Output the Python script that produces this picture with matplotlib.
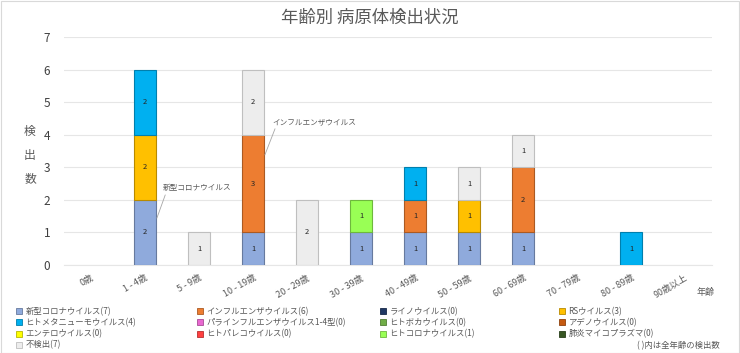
import matplotlib
matplotlib.use("Agg")
import matplotlib.pyplot as plt
import matplotlib.patches as mpatches
import numpy as np
from matplotlib.colors import to_rgb

plt.rcParams['font.family'] = ['Noto Sans CJK JP', 'DejaVu Sans']

categories = ["0歳", "1 - 4歳", "5 - 9歳", "10 - 19歳", "20 - 29歳", "30 - 39歳",
              "40 - 49歳", "50 - 59歳", "60 - 69歳", "70 - 79歳", "80 - 89歳", "90歳以上"]

series_names = ["新型コロナウイルス", "インフルエンザウイルス", "ライノウイルス", "RSウイルス",
                "ヒトメタニューモウイルス", "パラインフルエンザウイルス1-4型", "ヒトボカウイルス",
                "アデノウイルス", "エンテロウイルス", "ヒトパレコウイルス", "ヒトコロナウイルス",
                "肺炎マイコプラズマ", "不検出"]
totals = [7, 6, 0, 3, 4, 0, 0, 0, 0, 0, 1, 0, 7]
colors = ["#8FAADC", "#ED7D31", "#203864", "#FFC000", "#00B0F0", "#E868D0", "#70AD47",
          "#C55A11", "#FFFF00", "#FF4040", "#99FF55", "#375623", "#EDEDED"]

covid      = [0, 2, 0, 1, 0, 1, 1, 1, 1, 0, 0, 0]
influenza  = [0, 0, 0, 3, 0, 0, 1, 0, 2, 0, 0, 0]
rhino      = [0] * 12
rs         = [0, 2, 0, 0, 0, 0, 0, 1, 0, 0, 0, 0]
hmpv       = [0, 2, 0, 0, 0, 0, 1, 0, 0, 0, 1, 0]
parainf    = [0] * 12
boca       = [0] * 12
adeno      = [0] * 12
entero     = [0] * 12
pareco     = [0] * 12
hcov       = [0, 0, 0, 0, 0, 1, 0, 0, 0, 0, 0, 0]
mycoplasma = [0] * 12
negative   = [0, 0, 1, 2, 2, 0, 0, 1, 1, 0, 0, 0]

series_values = [covid, influenza, rhino, rs, hmpv, parainf, boca, adeno, entero,
                 pareco, hcov, mycoplasma, negative]

fig = plt.figure(figsize=(7.40, 3.53), dpi=100)
ax = fig.add_axes([64/740, 1-265/353, (712-64)/740, (265-37)/353])

x = np.arange(len(categories))
bottom = np.zeros(len(categories))
txtc = "#595959"


def edge_of(name, col):
    if name == "不検出":
        return "#BFBFBF"
    return tuple(c * 0.72 for c in to_rgb(col))


for name, vals, col in zip(series_names, series_values, colors):
    vals = np.array(vals, dtype=float)
    edge = edge_of(name, col)
    edges = [edge if v > 0 else (0, 0, 0, 0) for v in vals]
    lws = [0.8 if v > 0 else 0 for v in vals]
    ax.bar(x, vals, 0.4, bottom=bottom, color=col, edgecolor=edges, linewidth=lws, zorder=3)
    for xi, v, b in zip(x, vals, bottom):
        if v > 0:
            ax.text(xi, b + v / 2, f"{int(v)}", ha='center', va='center', fontsize=5.5,
                    color="#262626", zorder=4)
    bottom += vals

ax.set_xlim(-0.5, len(categories) - 0.5)
ax.set_ylim(0, 7)
ax.set_yticks(range(0, 8))
ax.yaxis.grid(True, color="#E6E6E6", linewidth=0.8, zorder=0)
ax.set_axisbelow(True)
for s in ["top", "right", "left"]:
    ax.spines[s].set_visible(False)
ax.spines["bottom"].set_color("#E6E6E6")
ax.tick_params(axis='y', length=0, labelsize=8.5, labelcolor="#404040", pad=10)
ax.tick_params(axis='x', length=0, labelsize=6.5, labelcolor=txtc, pad=6)
ax.set_xticks(x)
ax.set_xticklabels(categories, rotation=30, ha='right', va='top', rotation_mode='anchor')

# annotations
ax.annotate("新型コロナウイルス", xy=(1.22, 1.44), xytext=(1.33, 2.36),
            fontsize=5.5, color=txtc, ha='left', va='center',
            arrowprops=dict(arrowstyle='-', color="#A6A6A6", lw=0.6, relpos=(0.05, 0.0),
                            shrinkA=0, shrinkB=0))
ax.annotate("インフルエンザウイルス", xy=(3.22, 3.38), xytext=(3.35, 4.39),
            fontsize=5.5, color=txtc, ha='left', va='center',
            arrowprops=dict(arrowstyle='-', color="#A6A6A6", lw=0.6, relpos=(0.05, 0.0),
                            shrinkA=0, shrinkB=0))

fig.text(0.5, 1-18/353, "年齢別 病原体検出状況", ha='center', va='center', fontsize=12.5, color=txtc)
fig.text(30/740, 1-155/353, "検\n出\n数", ha='center', va='center', fontsize=8.5,
         color=txtc, linespacing=2.05)
fig.text(706/740, 1-292/353, "年齢", ha='center', va='center', fontsize=6.5, color=txtc)
fig.text(720/740, 1-346/353, "( )内は全年齢の検出数", ha='right', va='center', fontsize=6, color=txtc)

# legends: 4 columns
handles = []
for name, col, tot in zip(series_names, colors, totals):
    handles.append((mpatches.Patch(facecolor=col, edgecolor=edge_of(name, col), linewidth=0.6),
                    f"{name}({tot})"))

col_x = [16, 197, 380, 559]
for c in range(4):
    items = handles[c::4]
    fig.legend([h for h, _ in items], [l for _, l in items], loc='upper left',
               bbox_to_anchor=(col_x[c]/740, 1-307/353), frameon=False,
               fontsize=6, handlelength=0.75, handleheight=0.75, handletextpad=0.4,
               labelspacing=0.25, borderpad=0, borderaxespad=0, labelcolor=txtc)

fig.patches.append(mpatches.Rectangle((0.001, 0.001), 0.998, 0.997, transform=fig.transFigure,
                                      fill=False, edgecolor="#D9D9D9", linewidth=0.8))

fig.savefig("out.png", dpi=100, facecolor="white")
